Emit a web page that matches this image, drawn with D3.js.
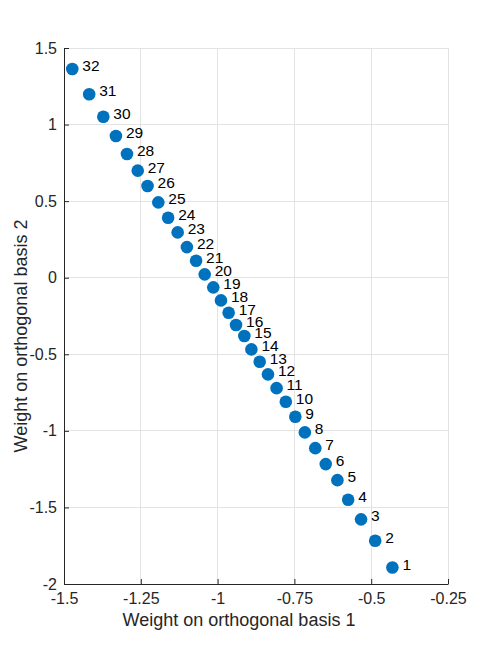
<!DOCTYPE html>
<html>
<head>
<meta charset="utf-8">
<script src="https://cdn.jsdelivr.net/npm/d3@7"></script>
<style>
  body { margin: 0; background: #fff; }
  svg { display: block; }
  text { font-family: "Liberation Sans", Arial, Helvetica, sans-serif; }
</style>
</head>
<body>
<svg id="chart" width="496" height="657"></svg>
<script>
const labels = d3.range(1, 33);
const xValues = [-0.431, -0.487, -0.533, -0.575, -0.610, -0.648, -0.682, -0.716, -0.747, -0.778,
  -0.808, -0.836, -0.863, -0.890, -0.913, -0.940, -0.964, -0.989, -1.014, -1.042,
  -1.070, -1.100, -1.130, -1.161, -1.193, -1.228, -1.260, -1.295, -1.331, -1.372,
  -1.418, -1.473];
const yValues = [-1.892, -1.718, -1.578, -1.450, -1.322, -1.217, -1.113, -1.010, -0.908, -0.810,
  -0.721, -0.631, -0.549, -0.468, -0.381, -0.309, -0.229, -0.148, -0.063, 0.022,
  0.111, 0.200, 0.296, 0.392, 0.492, 0.599, 0.699, 0.808, 0.925, 1.051,
  1.198, 1.363];
const xTicks = [-1.5, -1.25, -1, -0.75, -0.5, -0.25];
const yTicks = [-2, -1.5, -1, -0.5, 0, 0.5, 1, 1.5];
const xTitle = "Weight on orthogonal basis 1";
const yTitle = "Weight on orthogonal basis 2";

const svg = d3.select("#chart");
const mLeft = 64, mRight = 448, mTop = 48, mBottom = 584;
const x = d3.scaleLinear().domain([-1.5, -0.25]).range([mLeft, mRight]);
const y = d3.scaleLinear().domain([-2, 1.5]).range([mBottom, mTop]);
const axisColor = "#262626";

// grid
const grid = svg.append("g");
grid.selectAll(".gx").data(xTicks).enter().append("line")
  .attr("x1", d => x(d)).attr("x2", d => x(d))
  .attr("y1", mTop).attr("y2", mBottom)
  .attr("stroke", "#e3e3e3").attr("stroke-width", 1).attr("shape-rendering", "crispEdges");
grid.selectAll(".gy").data(yTicks).enter().append("line")
  .attr("y1", d => y(d)).attr("y2", d => y(d))
  .attr("x1", mLeft).attr("x2", mRight)
  .attr("stroke", "#e3e3e3").attr("stroke-width", 1).attr("shape-rendering", "crispEdges");

// axes
const fmt = d => String(d);
const xAxis = svg.append("g").attr("transform", `translate(0,${mBottom})`)
  .call(d3.axisBottom(x).tickValues(xTicks).tickFormat(fmt).tickSizeInner(-5).tickSizeOuter(0).tickPadding(8));
const yAxis = svg.append("g").attr("transform", `translate(${mLeft},0)`)
  .call(d3.axisLeft(y).tickValues(yTicks).tickFormat(fmt).tickSizeInner(-5).tickSizeOuter(0).tickPadding(7));
[xAxis, yAxis].forEach(g => {
  g.select(".domain").attr("stroke", axisColor).attr("stroke-width", 1);
  g.selectAll(".tick line").attr("stroke", axisColor);
  g.selectAll(".tick text").attr("fill", axisColor).attr("font-size", 16)
    .style("font-family", '"Liberation Sans", Arial, sans-serif');
});
xAxis.selectAll(".tick text").attr("dy", "0.75em");

// titles
svg.append("text").attr("x", (mLeft + mRight) / 2 - 17).attr("y", 626)
  .attr("text-anchor", "middle").attr("font-size", 18).attr("fill", axisColor).text(xTitle);
svg.append("text").attr("transform", `translate(27,336) rotate(-90)`)
  .attr("text-anchor", "middle").attr("font-size", 18).attr("fill", axisColor).text(yTitle);

// points
const data = labels.map((l, i) => ({ l, x: xValues[i], y: yValues[i] }));
svg.append("g").selectAll("circle").data(data).enter().append("circle")
  .attr("cx", d => x(d.x)).attr("cy", d => y(d.y)).attr("r", 6.3)
  .attr("fill", "#0072BD");
svg.append("g").selectAll("text").data(data).enter().append("text")
  .attr("x", d => x(d.x) + 10).attr("y", d => y(d.y) - 2)
  .attr("dominant-baseline", "middle")
  .attr("font-size", 15.5).attr("fill", "#000").text(d => d.l);
</script>
</body>
</html>
